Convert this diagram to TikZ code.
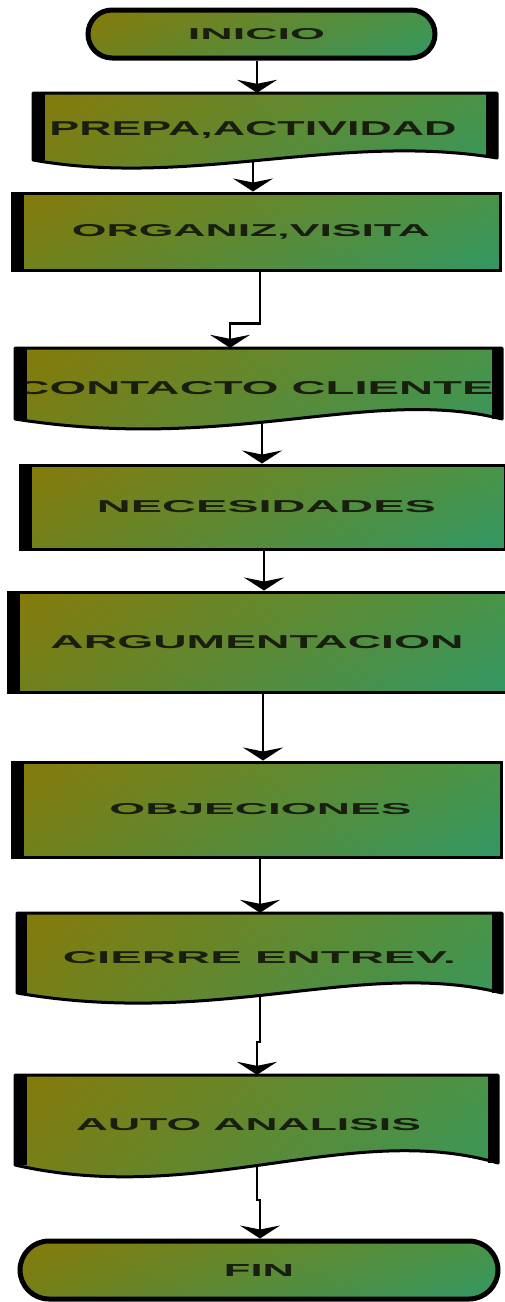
\documentclass[tikz,border=0pt]{standalone}
\usepackage{fontspec}
\setmainfont{Liberation Sans}
\usepackage{graphicx}
\usetikzlibrary{arrows.meta,shadings}
\pgfdeclarelayer{bg}
\pgfsetlayers{bg,main}
\definecolor{gUL}{RGB}{135,122,10}
\definecolor{gUR}{RGB}{72,148,72}
\definecolor{gLL}{RGB}{115,128,25}
\definecolor{gLR}{RGB}{50,152,100}
\definecolor{txt}{RGB}{25,30,15}
\newcommand\lbl[3]{\resizebox{#1pt}{#2pt}{\bfseries #3}}
\tikzset{
  fillgrad/.style={upper left=gUL, upper right=gUR, lower left=gLL, lower right=gLR},
  edgeline/.style={draw=black, line width=3pt, line join=round},
  sidebar/.style={fill=black},
  boxnode/.style={rectangle, inner sep=0pt, text=txt},
  docnode/.style={boxnode, draw=none},
  rectbox/.style={boxnode, shade, fillgrad, draw=black, line width=3pt},
  termbox/.style={boxnode, shade, fillgrad, draw=black, line width=5pt},
  arr/.style={line width=2.5pt, -{Stealth[width=40pt,length=13pt,inset=4pt]}},
}
\begin{document}
\begin{tikzpicture}[x=1pt,y=-1pt]
\useasboundingbox (0,0) rectangle (505,1302);

% INICIO
\node[termbox, rounded corners=24pt, minimum width=347pt, minimum height=48pt] (inicio) at (261.5,34) {\lbl{137}{11}{INICIO}\kern10pt};

% PREPA,ACTIVIDAD (document)
\shade[fillgrad] (33,93) -- (497,93) -- (497,158) .. controls (340,132) and (190,188) .. (33,160) -- cycle;
\node[docnode, minimum width=464pt, minimum height=75pt] (prepa) at (265,130.5) {\lbl{407}{14}{PREPA,ACTIVIDAD}\kern24pt};
\draw[edgeline] (33,93) -- (497,93) -- (497,158) .. controls (340,132) and (190,188) .. (33,160) -- cycle;
\fill[sidebar] (33,93) rectangle (45,160);
\fill[sidebar] (486,93) rectangle (497,158);

% ORGANIZ,VISITA
\node[rectbox, minimum width=488pt, minimum height=77pt] (organiz) at (256,231.5) {\lbl{358}{12}{ORGANIZ,VISITA}\kern10pt};
\fill[sidebar] (12,193) rectangle (24,270);

% CONTACTO CLIENTE (document)
\shade[fillgrad] (15,348) -- (502,348) -- (502,419) .. controls (370,386) and (230,453) .. (15,419) -- cycle;
\node[docnode, minimum width=487pt, minimum height=81pt] (contacto) at (258.5,388.5) {\lbl{478}{13}{CONTACTO CLIENTE}\kern8pt};
\draw[edgeline] (15,348) -- (502,348) -- (502,419) .. controls (370,386) and (230,453) .. (15,419) -- cycle;
\fill[sidebar] (15,348) rectangle (27,419);
\fill[sidebar] (492,348) rectangle (502,419);

% NECESIDADES
\node[rectbox, minimum width=485pt, minimum height=84pt] (nec) at (262.5,507) {\kern8pt\lbl{339}{12}{NECESIDADES}};
\fill[sidebar] (20,465) rectangle (32,549);

% ARGUMENTACION
\node[rectbox, minimum width=502pt, minimum height=100pt] (arg) at (259,642) {\lbl{413}{13}{ARGUMENTACION}\kern4pt};
\fill[sidebar] (8,592) rectangle (20,692);

% OBJECIONES
\node[rectbox, minimum width=489pt, minimum height=95pt] (obj) at (256.5,809.5) {\kern8pt\lbl{302}{11}{OBJECIONES}};
\fill[sidebar] (12,762) rectangle (24,857);

% CIERRE ENTREV. (document)
\shade[fillgrad] (17,913) -- (502,913) -- (502,993) .. controls (360,958) and (220,1028) .. (17,993) -- cycle;
\node[docnode, minimum width=485pt, minimum height=90pt] (cierre) at (259.5,958) {\lbl{393}{12}{CIERRE ENTREV.}};
\draw[edgeline] (17,913) -- (502,913) -- (502,993) .. controls (360,958) and (220,1028) .. (17,993) -- cycle;
\fill[sidebar] (17,913) rectangle (27,993);
\fill[sidebar] (492,913) rectangle (502,993);

% AUTO ANALISIS (document)
\shade[fillgrad] (15,1075) -- (498,1075) -- (498,1163) .. controls (350,1120) and (200,1207) .. (15,1165) -- cycle;
\node[docnode, minimum width=483pt, minimum height=100pt] (auto) at (256.5,1125) {\lbl{345}{12}{AUTO ANALISIS}\kern16pt};
\draw[edgeline] (15,1075) -- (498,1075) -- (498,1163) .. controls (350,1120) and (200,1207) .. (15,1165) -- cycle;
\fill[sidebar] (15,1075) rectangle (27,1165);
\fill[sidebar] (488,1075) rectangle (498,1163);

% FIN
\node[termbox, rounded corners=29pt, minimum width=478pt, minimum height=58pt] (fin) at (259,1270) {\lbl{70}{12}{FIN}};

% connectors
\begin{pgfonlayer}{bg}
\draw[arr] ([xshift=-4.5pt]inicio.south) -- ([xshift=-8pt]prepa.north);
\draw[arr] ([xshift=-12pt,yshift=15pt]prepa.south) -- ([xshift=-3pt]organiz.north);
\draw[arr] ([xshift=4pt]organiz.south) -- ++(0,52) -| ([xshift=-28.5pt]contacto.north);
\draw[arr] ([xshift=3.5pt,yshift=15pt]contacto.south) -- ([xshift=-0.5pt]nec.north);
\draw[arr] ([xshift=1.5pt]nec.south) -- ([xshift=5pt]arg.north);
\draw[arr] ([xshift=4pt]arg.south) -- ([xshift=6.5pt]obj.north);
\draw[arr] ([xshift=3.5pt]obj.south) -- ([xshift=0.5pt]cierre.north);
\draw[arr] ([xshift=0.5pt,yshift=15pt]cierre.south) -- ++(0,54) -| ([xshift=0.5pt]auto.north);
\draw[arr] ([xshift=0.5pt,yshift=15pt]auto.south) -- ++(0,40) -| ([xshift=1pt]fin.north);
\end{pgfonlayer}
\end{tikzpicture}
\end{document}
